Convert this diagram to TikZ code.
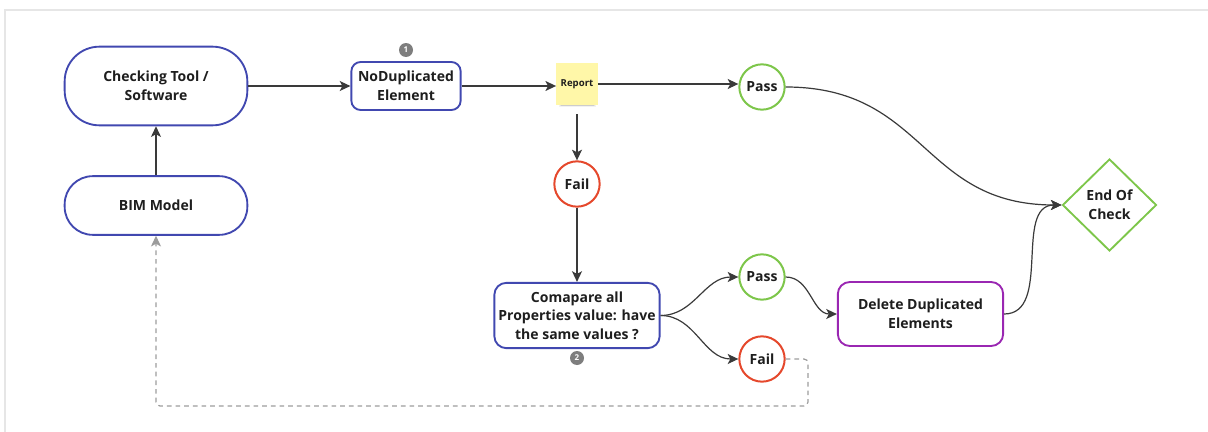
\documentclass[tikz,border=0pt]{standalone}
\usepackage{fontspec}
\setmainfont{Open Sans}
\usetikzlibrary{shapes.geometric,arrows.meta}

\definecolor{linec}{HTML}{3A3A3A}
\definecolor{textc}{HTML}{1E1E1E}
\definecolor{bluec}{HTML}{4148B0}
\definecolor{greenc}{HTML}{7DC64A}
\definecolor{redc}{HTML}{E5482C}
\definecolor{purplec}{HTML}{9A27B2}
\definecolor{stickyc}{HTML}{FFF7A8}
\definecolor{dashc}{HTML}{9C9C9C}
\definecolor{badgec}{HTML}{7E7E7E}
\definecolor{framec}{HTML}{E6E6E6}

\begin{document}
\begin{tikzpicture}[x=0.75pt,y=-0.75pt,
  lbl/.style={font=\fontsize{10.5}{14}\selectfont\bfseries, text=textc, align=center, inner sep=0pt},
  pill/.style={lbl, draw=bluec, line width=1.4pt, fill=white, rectangle},
  statepass/.style={lbl, circle, draw=greenc, line width=1.5pt, fill=white, minimum size=34pt},
  statefail/.style={lbl, circle, draw=redc, line width=1.5pt, fill=white, minimum size=34pt},
  badge/.style={circle, fill=badgec, text=white, inner sep=0pt, minimum size=10.5pt,
    font=\fontsize{6}{6}\selectfont\bfseries},
  flow/.style={draw=linec, line width=0.9pt, -{Stealth[length=8pt,width=7.5pt,inset=2pt]}},
  back/.style={draw=dashc, line width=0.9pt, dash pattern=on 3.5pt off 3pt, rounded corners=3pt,
    -{Stealth[length=8pt,width=7.5pt,inset=2pt]}}
]
\useasboundingbox (0,0) rectangle (1208,432);

% light frame along the top and left edges
\draw[framec, line width=1.5pt] (5,432) -- (5,9.5) -- (1208,9.5);

% process boxes
\node[pill, rounded corners=26pt, minimum width=137pt, minimum height=59pt] (tool) at (156,86) {Checking Tool /\\Software};
\node[pill, rounded corners=21pt, minimum width=137pt, minimum height=44pt] (bim) at (156,205.5) {BIM Model};
\node[pill, rounded corners=7pt, minimum width=82pt, minimum height=36pt] (nodup) at (406,86) {NoDuplicated\\Element};
\node[badge] (b1) at (406,50) {1};

% sticky note with its soft shadow
\foreach \k/\o in {0/0.05,1/0.07,2/0.09,3/0.12} {
  \fill[black, opacity=\o] (559+\k,96+\k) rectangle (596-\k,107-\k*0.6);
}
\node[lbl, fill=stickyc, minimum width=31pt, minimum height=31pt, font=\fontsize{7.2}{9}\selectfont\bfseries] (report) at (577,84) {Report};
\coordinate (reportout) at (577,114);

% outcome states
\node[statepass] (pass1) at (762,87) {Pass};
\node[statefail] (fail1) at (577,184) {Fail};
\node[pill, rounded corners=9pt, minimum width=124pt, minimum height=49pt] (cmp) at (577,315.5) {Comapare all\\Properties value: have\\the same values ?};
\node[badge] (b2) at (577,358) {2};
\node[statepass] (pass2) at (762,277) {Pass};
\node[statefail] (fail2) at (762,359) {Fail};
\node[lbl, rectangle, draw=purplec, line width=1.4pt, rounded corners=9pt, minimum width=124pt, minimum height=48pt] (del) at (920.5,314) {Delete Duplicated\\Elements};
\node[lbl, diamond, draw=greenc, line width=1.4pt, minimum width=70.5pt, minimum height=69pt] (end) at (1109.5,205) {End Of\\Check};

% connectors
\draw[flow] (bim) -- (tool);
\draw[flow] (tool) -- (nodup);
\draw[flow] (nodup.east) -- (nodup.east -| report.west);
\draw[flow] (report.east) -- (report.east -| pass1.west);
\draw[flow] (reportout) -- (fail1.north);
\draw[flow] (fail1) -- (cmp);
\draw[flow] (cmp.east) to[out=0,in=180] (pass2.west);
\draw[flow] (cmp.east) to[out=0,in=180] (fail2.west);
\draw[flow] (pass2.east) to[out=0,in=180] (del.west);
\draw[flow] (pass1.east) to[out=0,in=180,looseness=1.2] (end.west);
\draw[flow] (del.east) to[out=0,in=180] (end.west);

% retry path back to the model
\coordinate (loopcorner) at (808,406);
\draw[back] (fail2.east) -| (loopcorner) -| (bim.south);
\end{tikzpicture}
\end{document}
